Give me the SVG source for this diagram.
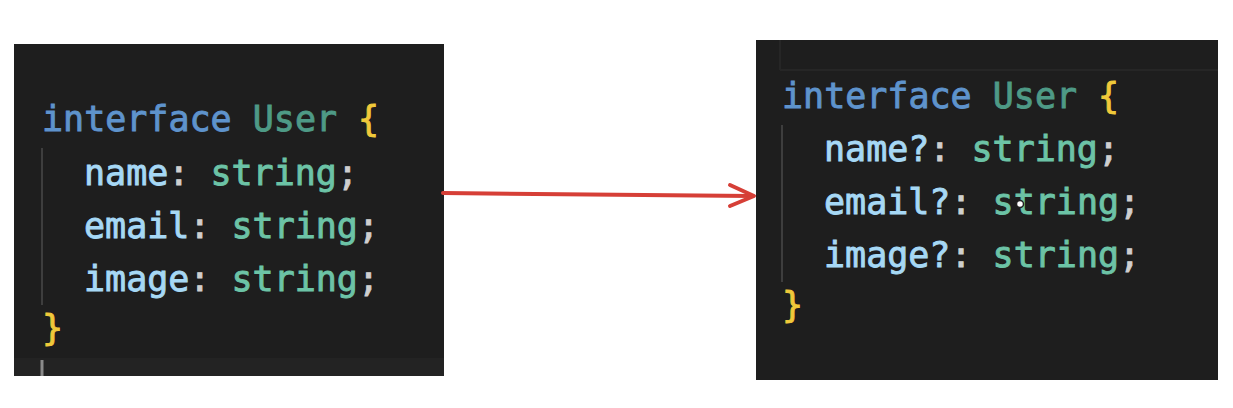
<svg xmlns="http://www.w3.org/2000/svg" width="1233" height="408" viewBox="0 0 1233 408">
<style>
.code{font-family:"DejaVu Sans Mono","Liberation Mono",monospace;font-size:35px;stroke-width:0.9px}
.kw{fill:#5e93cc;stroke:#5e93cc}.ty{fill:#4e9a86;stroke:#4e9a86}.br{fill:#f0c93a;stroke:#f0c93a}.pr{fill:#a6d8f5;stroke:#a6d8f5}.pu{fill:#cfcfcf;stroke:#cfcfcf}.st{fill:#6cc3a6;stroke:#6cc3a6}
.panel{fill:#1e1e1e}
.guide{stroke:#3e3e3e;stroke-width:2}
</style>
<rect width="1233" height="408" fill="#ffffff"/>
<g id="before">
<rect class="panel" x="14" y="44" width="430" height="332"/>
<rect x="14" y="358" width="430" height="18" fill="#232323"/>
<line class="guide" x1="42" y1="148" x2="42" y2="305"/>
<line x1="42" y1="360" x2="42" y2="376" stroke="#8a8a8a" stroke-width="3"/>
<text class="code" x="42" y="131"><tspan class="kw">interface</tspan> <tspan class="ty">User</tspan> <tspan class="br">{</tspan></text>
<text class="code" x="84" y="185"><tspan class="pr">name</tspan><tspan class="pu">:</tspan> <tspan class="st">string</tspan><tspan class="pu">;</tspan></text>
<text class="code" x="84" y="238"><tspan class="pr">email</tspan><tspan class="pu">:</tspan> <tspan class="st">string</tspan><tspan class="pu">;</tspan></text>
<text class="code" x="84" y="291"><tspan class="pr">image</tspan><tspan class="pu">:</tspan> <tspan class="st">string</tspan><tspan class="pu">;</tspan></text>
<text class="code br" x="42" y="340">}</text>
</g>
<g id="after">
<rect class="panel" x="756" y="40" width="462" height="340"/>
<line x1="780" y1="40" x2="780" y2="70" stroke="#262626" stroke-width="2"/>
<line x1="780" y1="70" x2="1218" y2="70" stroke="#262626" stroke-width="2"/>
<line class="guide" x1="782" y1="125" x2="782" y2="282"/>
<text class="code" x="782" y="108"><tspan class="kw">interface</tspan> <tspan class="ty">User</tspan> <tspan class="br">{</tspan></text>
<text class="code" x="824" y="161"><tspan class="pr">name?</tspan><tspan class="pu">:</tspan> <tspan class="st">string</tspan><tspan class="pu">;</tspan></text>
<text class="code" x="824" y="214"><tspan class="pr">email?</tspan><tspan class="pu">:</tspan> <tspan class="st">string</tspan><tspan class="pu">;</tspan></text>
<text class="code" x="824" y="267"><tspan class="pr">image?</tspan><tspan class="pu">:</tspan> <tspan class="st">string</tspan><tspan class="pu">;</tspan></text>
<text class="code br" x="782" y="317">}</text>
<circle cx="1020" cy="204" r="3.5" fill="#ffffff" stroke="#222" stroke-width="1.5"/>
</g>
<g id="connectors">
<line x1="443" y1="193" x2="752" y2="196" stroke="#d63f37" stroke-width="4" stroke-linecap="round"/>
<polyline points="730,185 754,196 730,206" fill="none" stroke="#d63f37" stroke-width="4" stroke-linecap="round" stroke-linejoin="round"/>
</g>
</svg>
